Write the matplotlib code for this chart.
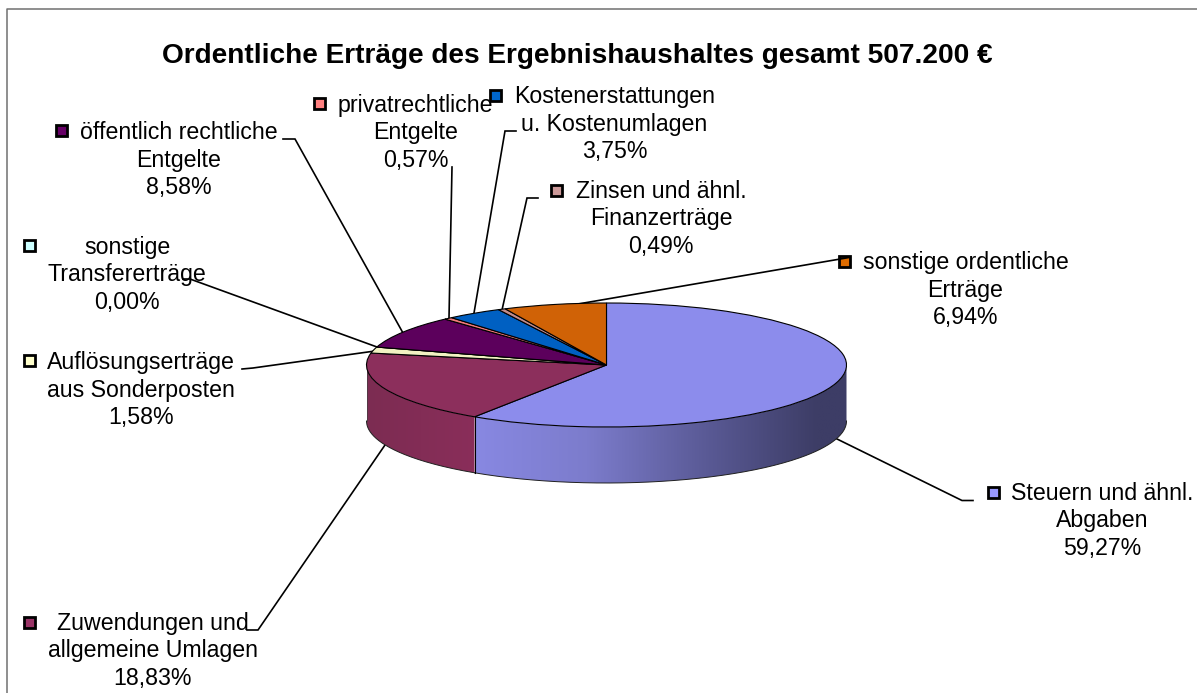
import numpy as np
import matplotlib
matplotlib.use("Agg")
import matplotlib.pyplot as plt
from matplotlib.colors import LinearSegmentedColormap
from matplotlib.patches import Rectangle, Polygon

W, H = 1197, 693

title = "Ordentliche Erträge des Ergebnishaushaltes gesamt 507.200 €"
# slices, clockwise from 12 o'clock
names = ["Steuern und ähnl.\nAbgaben", "Zuwendungen und\nallgemeine Umlagen",
         "Auflösungserträge\naus Sonderposten", "sonstige\nTransfererträge",
         "öffentlich rechtliche\nEntgelte", "privatrechtliche\nEntgelte",
         "Kostenerstattungen\nu. Kostenumlagen", "Zinsen und ähnl.\nFinanzerträge",
         "sonstige ordentliche\nErträge"]
values = [59.27, 18.83, 1.58, 0.00, 8.58, 0.57, 3.75, 0.49, 6.94]
top_colors = ["#8C8CEC", "#8C2F5C", "#F2F2C2", "#CCFFFF", "#5C005C",
              "#F27A7A", "#0060C2", "#C28C8C", "#D06206"]
key_colors = ["#9999FF", "#993366", "#FFFFCC", "#CCFFFF", "#660066",
              "#FF8080", "#0066CC", "#CC9999", "#E06C00"]

# pixel layout
cx, cy, rx, ry, depth = 606.5, 365, 240, 62, 56
text_xy = [(1102, 520), (152.5, 650), (141, 389), (127, 274), (178.5, 159),
           (415.5, 132), (614.5, 123), (661, 218), (965.5, 289)]
key_xy = [(993, 492), (29, 622), (29, 360), (29, 245), (61.5, 130),
          (319, 103.5), (495.5, 95), (556.5, 190), (844, 261)]
leaders = [[(835, 438), (962, 500.5), (973, 500.5)],
           [(385, 445), (258, 630), (247, 630)],
           [(375, 351), (253, 368), (242, 369)],
           [(377, 347), (190, 279), (183, 279)],
           [(403, 333), (295, 139), (283, 139)],
           [(449, 318), (452, 167)],
           [(474, 313), (505, 131), (516, 131)],
           [(502, 310), (527, 198), (538, 198)],
           [(578, 304), (849, 257.5)]]

plt.rcParams['font.family'] = ['Liberation Sans', 'DejaVu Sans']

fig = plt.figure(figsize=(W / 100, H / 100), dpi=100)
ax = fig.add_axes([0, 0, 1, 1])
ax.set_xlim(0, W)
ax.set_ylim(H, 0)
ax.axis('off')

# chart border, only left and top fall inside the picture
ax.plot([7, 7, W + 5], [H + 5, 9, 9], color='#707070', lw=1.1)

for key, col in zip(key_xy, key_colors):
    ax.add_patch(Rectangle((key[0] - 5.5, key[1] - 5.5), 11, 11, fc=col, ec='black', lw=2))

for pts in leaders:
    xs, ys = zip(*pts)
    ax.plot(xs, ys, color='black', lw=1.2, solid_joinstyle='miter')

# pie axes in radius units, squashed to get the ellipse
pa = fig.add_axes([0, 0, 1, 1], facecolor='none')
pa.pie(values, colors=top_colors, startangle=90, counterclock=False,
       wedgeprops=dict(edgecolor='black', linewidth=0.8, zorder=5))

# side of the disc
edges = np.cumsum([0] + values) / sum(values) * 360
d = depth / ry
steuern_cm = LinearSegmentedColormap.from_list('s', [(0, '#8888E2'), (0.3, '#7C7CCC'),
                                                     (0.62, '#5A5A96'), (0.92, '#3D3D66'),
                                                     (1, '#3D3D66')])
zuw_cm = LinearSegmentedColormap.from_list('z', ['#7C2C52', '#8A2E5A'])
grad = np.linspace(0, 1, 256).reshape(1, -1)
for a, b, cm in [(90, edges[1], steuern_cm), (edges[1], 270, zuw_cm)]:
    th = np.radians(np.linspace(a, b, 160))
    xs, ys = np.sin(th), np.cos(th)
    outline = np.column_stack([np.r_[xs, xs[::-1]], np.r_[ys, ys[::-1] - d]])
    im = pa.imshow(grad, cmap=cm, aspect='auto', zorder=1,
                   extent=(xs.min(), xs.max(), (ys - d).min(), ys.max()))
    im.set_clip_path(Polygon(outline, transform=pa.transData))
    pa.plot(xs, ys - d, color='#202020', lw=0.7, zorder=3)

# seam between the two visible side pieces
sx, sy = np.sin(np.radians(edges[1])), np.cos(np.radians(edges[1]))
pa.plot([sx, sx], [sy, sy - d], color='black', lw=0.8, zorder=3)
pa.plot([-1, -1], [0, -d], color='#404040', lw=0.5, zorder=3)

pa.set_aspect('auto')
pa.set_xlim((0 - cx) / rx, (W - cx) / rx)
pa.set_ylim((cy - H) / ry, cy / ry)
pa.axis('off')

# labels on top of everything
tx = fig.add_axes([0, 0, 1, 1], facecolor='none')
tx.set_xlim(0, W)
tx.set_ylim(H, 0)
tx.axis('off')

tx.text(577.5, 56, title, ha='center', va='center', fontsize=20.2, fontweight='bold')
for name, val, pos in zip(names, values, text_xy):
    label = name + "\n" + f"{val:.2f}".replace('.', ',') + "%"
    tx.text(pos[0], pos[1] + 1, label, ha='center', va='center', fontsize=16.7,
            linespacing=1.26, color='black')

fig.savefig('out.png', dpi=100)
